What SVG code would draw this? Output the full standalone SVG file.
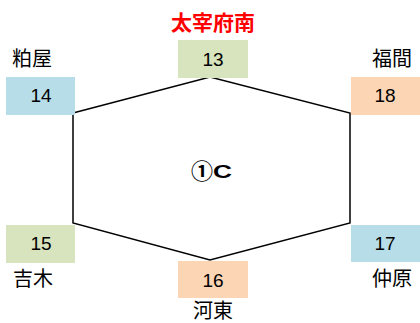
<svg xmlns="http://www.w3.org/2000/svg" width="420" height="323" viewBox="0 0 420 323">
<style>
.g{fill:#D7E4BD}.b{fill:#B7DDE8}.o{fill:#FCD5B5}
.n{font-family:"Liberation Sans",Arial,sans-serif;font-size:19px;fill:#000;text-anchor:middle}
.l{font-family:"Noto Sans CJK JP",sans-serif;font-size:20px;fill:#000;text-anchor:middle}
.t{font-family:"Noto Sans CJK JP",sans-serif;font-size:21px;font-weight:bold;fill:#FF0000;text-anchor:middle}
.c{font-family:"Liberation Sans","Noto Sans CJK JP",sans-serif;font-size:18px;font-weight:bold;fill:#000}
.ci{font-family:"Noto Sans CJK JP",sans-serif;font-size:22px;font-weight:bold}
</style>
<rect width="420" height="323" fill="#fff"/>
<g id="connectors">
<polygon points="73,113 210,77 350,113 350,223 210,260 73,223" fill="none" stroke="#000" stroke-width="1.5"/>
</g>
<g id="center"><text class="c" x="191" y="178"><tspan class="ci" y="179">①</tspan><tspan x="213" y="178" textLength="19" lengthAdjust="spacingAndGlyphs">C</tspan></text></g>
<g id="n13"><text class="t" x="213" y="30">太宰府南</text><rect class="g" x="178" y="40" width="70" height="38"/><text class="n" x="213" y="66">13</text></g>
<g id="n14"><text class="l" x="32" y="66">粕屋</text><rect class="b" x="6" y="77" width="69" height="38"/><text class="n" x="41" y="102">14</text></g>
<g id="n18"><text class="l" x="392" y="66">福間</text><rect class="o" x="351" y="77" width="69" height="38"/><text class="n" x="385" y="102">18</text></g>
<g id="n15"><rect class="g" x="6" y="225" width="69" height="38"/><text class="n" x="41" y="250">15</text><text class="l" x="33" y="286">吉木</text></g>
<g id="n16"><rect class="o" x="178" y="261" width="70" height="37"/><text class="n" x="213" y="287">16</text><text class="l" x="213" y="318">河東</text></g>
<g id="n17"><rect class="b" x="351" y="225" width="69" height="37"/><text class="n" x="385" y="250">17</text><text class="l" x="392" y="286">仲原</text></g>
</svg>
